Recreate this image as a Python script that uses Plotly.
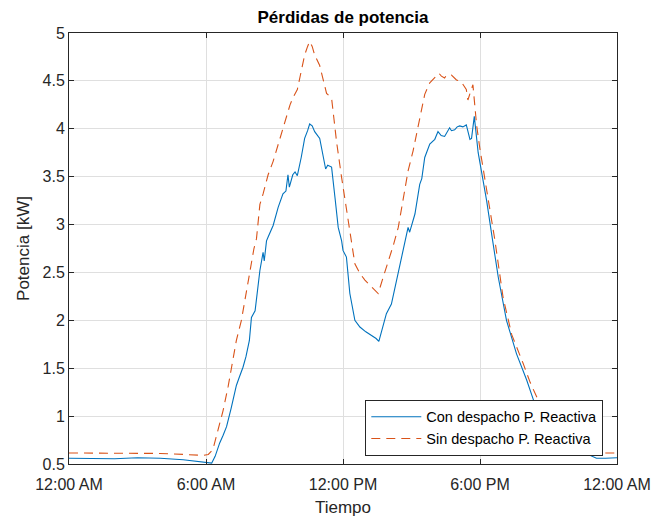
import plotly.graph_objects as go
import pandas as pd

# Hours of day and values (kW)
t_con = [0.0, 1.0, 2.0, 3.0, 4.0, 5.0, 5.5, 6.0, 6.25, 6.4, 6.6, 6.75, 6.9, 7.1, 7.33, 7.45, 7.62, 7.75,
         7.9, 7.99, 8.15, 8.36, 8.5, 8.55, 8.65, 8.72, 8.94, 9.16, 9.37, 9.5, 9.59, 9.65, 9.8, 9.9, 10.0,
         10.17, 10.32, 10.45, 10.54, 10.65, 10.76, 10.98, 11.13, 11.24, 11.33, 11.5, 11.65, 11.79, 11.94,
         12.0, 12.15, 12.3, 12.52, 12.74, 13.0, 13.25, 13.45, 13.57, 13.9, 14.12, 14.49, 14.63, 14.85,
         14.92, 15.15, 15.36, 15.45, 15.58, 15.8, 16.02, 16.16, 16.3, 16.45, 16.67, 16.75, 16.89, 17.0,
         17.11, 17.25, 17.4, 17.5, 17.56, 17.63, 17.75, 17.92, 18.07, 18.29, 18.51, 18.8, 19.16, 19.6,
         20.04, 20.41, 20.9, 21.4, 22.0, 22.45, 23.1, 23.5, 24.0]
v_con = [0.56, 0.555, 0.555, 0.565, 0.56, 0.545, 0.53, 0.51, 0.51, 0.58, 0.72, 0.80, 0.89, 1.08, 1.32, 1.40,
         1.51, 1.62, 1.79, 2.03, 2.10, 2.52, 2.71, 2.62, 2.83, 2.87, 2.99, 3.18, 3.32, 3.35, 3.52, 3.39,
         3.52, 3.55, 3.51, 3.70, 3.90, 3.98, 4.05, 4.03, 3.97, 3.90, 3.70, 3.58, 3.62, 3.60, 3.28, 2.97,
         2.83, 2.73, 2.66, 2.28, 2.00, 1.93, 1.88, 1.84, 1.81, 1.78, 2.07, 2.17, 2.59, 2.73, 2.97, 2.92,
         3.11, 3.42, 3.48, 3.70, 3.84, 3.89, 3.97, 3.93, 3.92, 4.01, 3.98, 3.99, 4.02, 4.03, 4.02, 4.04,
         3.93, 3.89, 3.90, 4.13, 3.75, 3.56, 3.25, 2.90, 2.45, 2.00, 1.65, 1.38, 1.12, 0.95, 0.80, 0.68,
         0.63, 0.56, 0.56, 0.565]

t_sin = [0.0, 1.0, 2.0, 3.0, 4.0, 5.0, 5.9, 6.1, 6.3, 6.53, 6.75, 6.97, 7.2, 7.33, 7.55, 7.77, 7.99, 8.1,
         8.21, 8.36, 8.5, 8.72, 8.94, 9.24, 9.46, 9.68, 9.8, 10.0, 10.17, 10.32, 10.45, 10.54, 10.65,
         10.76, 10.98, 11.13, 11.28, 11.5, 11.72, 11.94, 12.15, 12.3, 12.37, 12.52, 12.74, 12.96, 13.25,
         13.54, 13.76, 14.05, 14.2, 14.42, 14.63, 14.85, 15.07, 15.29, 15.44, 15.58, 15.8, 16.1, 16.2,
         16.31, 16.45, 16.53, 16.75, 16.97, 17.18, 17.4, 17.47, 17.59, 17.69, 17.77, 17.85, 17.99, 18.21,
         18.43, 18.65, 19.01, 19.39, 19.89, 20.2, 20.56, 20.9, 21.4, 22.0, 22.4, 22.67, 24.0]
v_sin = [0.615, 0.615, 0.615, 0.615, 0.61, 0.60, 0.59, 0.60, 0.65, 0.86, 1.06, 1.31, 1.62, 1.79, 2.00,
         2.31, 2.62, 2.75, 2.85, 3.21, 3.32, 3.52, 3.66, 3.90, 4.08, 4.25, 4.32, 4.41, 4.60, 4.77, 4.86,
         4.91, 4.86, 4.77, 4.66, 4.50, 4.37, 4.32, 3.86, 3.49, 3.18, 2.95, 2.83, 2.59, 2.49, 2.42, 2.35,
         2.28, 2.45, 2.66, 2.78, 2.97, 3.28, 3.56, 3.77, 4.01, 4.18, 4.36, 4.48, 4.56, 4.58, 4.55, 4.53,
         4.56, 4.56, 4.51, 4.49, 4.41, 4.30, 4.39, 4.46, 4.25, 4.04, 3.80, 3.49, 3.14, 2.84, 2.24, 1.85,
         1.55, 1.35, 1.16, 1.00, 0.82, 0.69, 0.63, 0.615, 0.615]

x_ticks_hours = [0, 6, 12, 18, 24]
y_ticks = [0.5, 1, 1.5, 2, 2.5, 3, 3.5, 4, 4.5, 5]
y_tick_labels = ["0.5", "1", "1.5", "2", "2.5", "3", "3.5", "4", "4.5", "5"]

base = pd.Timestamp("2020-01-01")
def to_dt(h):
    return [base + pd.to_timedelta(x, unit="h") for x in h]

FONT = "Liberation Sans, Arial, Helvetica, sans-serif"
AX = "#262626"

fig = go.Figure()
fig.add_trace(go.Scatter(x=to_dt(t_con), y=v_con, mode="lines", name="Con despacho P. Reactiva",
                         line=dict(color="#0072BD", width=1.1)))
fig.add_trace(go.Scatter(x=to_dt(t_sin), y=v_sin, mode="lines", name="Sin despacho P. Reactiva",
                         line=dict(color="#D95319", width=1.1, dash="9px,6px")))

fig.update_layout(
    width=652, height=518,
    margin=dict(l=69, r=35, t=33, b=54, autoexpand=False),
    paper_bgcolor="white", plot_bgcolor="white",
    font=dict(family=FONT, color=AX),
    title=dict(text="<b>Pérdidas de potencia</b>", x=(69 + 617) / 2 / 652, xanchor="center",
               y=1 - 17 / 518, yanchor="middle", automargin=False,
               font=dict(size=17, color="black", family=FONT)),
    showlegend=True,
    legend=dict(x=0.975, xanchor="right", y=0.084, yanchor="middle",
                bgcolor="white", bordercolor=AX, borderwidth=1,
                font=dict(size=14.5, color="black", family=FONT), itemwidth=50,
                tracegroupgap=0),
)
fig.update_xaxes(
    type="date", range=[to_dt([0])[0], to_dt([24])[0]], automargin=False,
    tickvals=to_dt(x_ticks_hours), tickformat="%-I:%M %p",
    showgrid=True, gridcolor="#dfdfdf", gridwidth=1,
    showline=True, linecolor=AX, linewidth=1, mirror="ticks",
    ticks="inside", ticklen=5, tickcolor=AX, ticklabelstandoff=6,
    tickfont=dict(size=16, color=AX), zeroline=False,
    title=dict(text="Tiempo", font=dict(size=17, color=AX), standoff=8),
)
fig.update_yaxes(
    range=[0.5, 5], tickvals=y_ticks, ticktext=y_tick_labels, automargin=False,
    showgrid=True, gridcolor="#dfdfdf", gridwidth=1,
    showline=True, linecolor=AX, linewidth=1, mirror="ticks",
    ticks="inside", ticklen=5, tickcolor=AX,
    tickfont=dict(size=16, color=AX), zeroline=False,
    title=dict(text="Potencia [kW]", font=dict(size=17, color=AX), standoff=8),
)

fig.write_html("out.html", config={"displayModeBar": False},
               post_script="document.body.style.margin='0';")
